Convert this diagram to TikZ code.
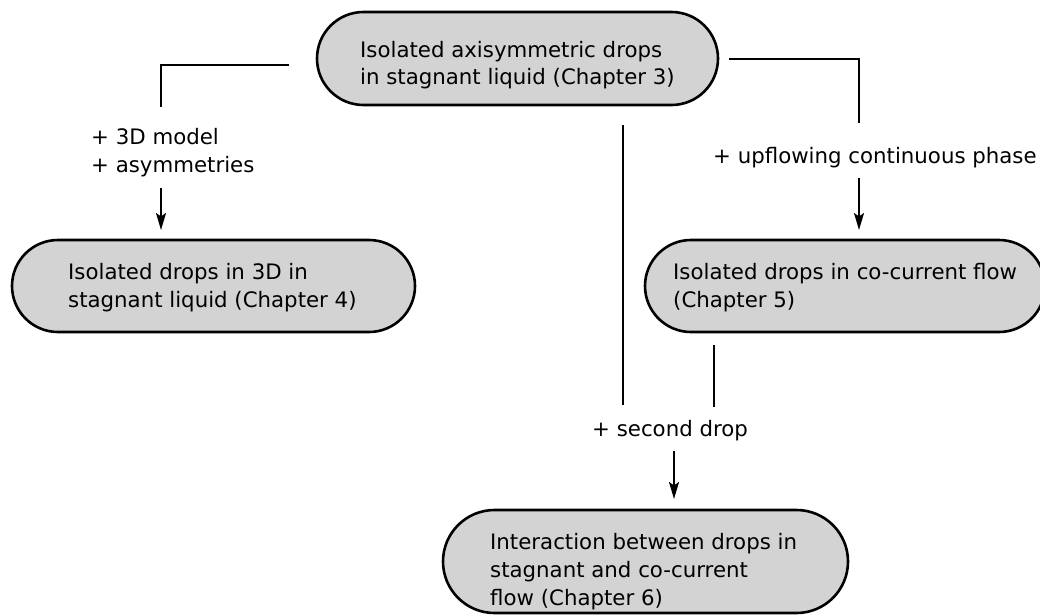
\documentclass[tikz,border=0pt]{standalone}
\usepackage{fontspec}
\setmainfont{DejaVu Sans}
\usetikzlibrary{arrows.meta}
\definecolor{boxfill}{RGB}{211,211,211}
\begin{document}
\begin{tikzpicture}[x=1pt, y=-1pt,
  font=\fontsize{21.3}{28}\selectfont,
  chapter/.style={draw=black, line width=2.6pt, fill=boxfill, inner sep=0pt},
  txt/.style={inner sep=0pt, align=left, anchor=base west},
  link/.style={line width=2pt},
  arrowlink/.style={line width=2pt, -{Stealth[length=17pt, width=10pt, inset=3.5pt]}}]
\useasboundingbox (0,0) rectangle (1040,615);
\clip (0,0) rectangle (1040,615);

% chapter boxes (stadium shapes)
\node[chapter, minimum width=401pt, minimum height=93pt, rounded corners=46.5pt] (ch3) at (517.5,58.5) {};
\node[chapter, minimum width=403pt, minimum height=92pt, rounded corners=46pt] (ch4) at (213.5,286) {};
\node[chapter, minimum width=400pt, minimum height=92pt, rounded corners=46pt] (ch5) at (845,286) {};
\node[chapter, minimum width=405pt, minimum height=103pt, rounded corners=51.5pt] (ch6) at (645.5,561.5) {};

% box captions (base anchor = baseline of the last line)
\node[txt] (ch3text) at (360,85) {Isolated axisymmetric drops\\in stagnant liquid (Chapter 3)};
\node[txt] (ch4text) at (68,307) {Isolated drops in 3D in\\stagnant liquid (Chapter 4)};
\node[txt] (ch5text) at (673,307) {Isolated drops in co-current flow\\(Chapter 5)};
\node[txt] (ch6text) at (490,605) {Interaction between drops in\\stagnant and co-current\\flow (Chapter 6)};

% step labels
\node[txt] (lab3d) at (91,172) {+ 3D model\\+ asymmetries};
\node[txt] (labflow) at (713,163) {+ upflowing continuous phase};
\node[txt] (labdrop) at (592,436) {+ second drop};

% connector end points
\coordinate (l1) at (289,65);
\coordinate (l2) at (161,107);
\coordinate (l3) at (161,188);
\coordinate (l4) at (161,230);
\coordinate (r1) at (729,59);
\coordinate (r2) at (859,123);
\coordinate (r3) at (859,178);
\coordinate (r4) at (859,230);
\coordinate (c1) at (623,125);
\coordinate (c2) at (623,405);
\coordinate (c3) at (714,345);
\coordinate (c4) at (714,407);
\coordinate (c5) at (674,451);
\coordinate (c6) at (674,499);

% ch3 -> ch4
\draw[link] (l1) -| (l2);
\draw[arrowlink] (l3) -- (l4);
% ch3 -> ch5
\draw[link] (r1) -| (r2);
\draw[arrowlink] (r3) -- (r4);
% ch3, ch5 -> ch6
\draw[link] (c1) -- (c2);
\draw[link] (c3) -- (c4);
\draw[arrowlink] (c5) -- (c6);
\end{tikzpicture}
\end{document}
